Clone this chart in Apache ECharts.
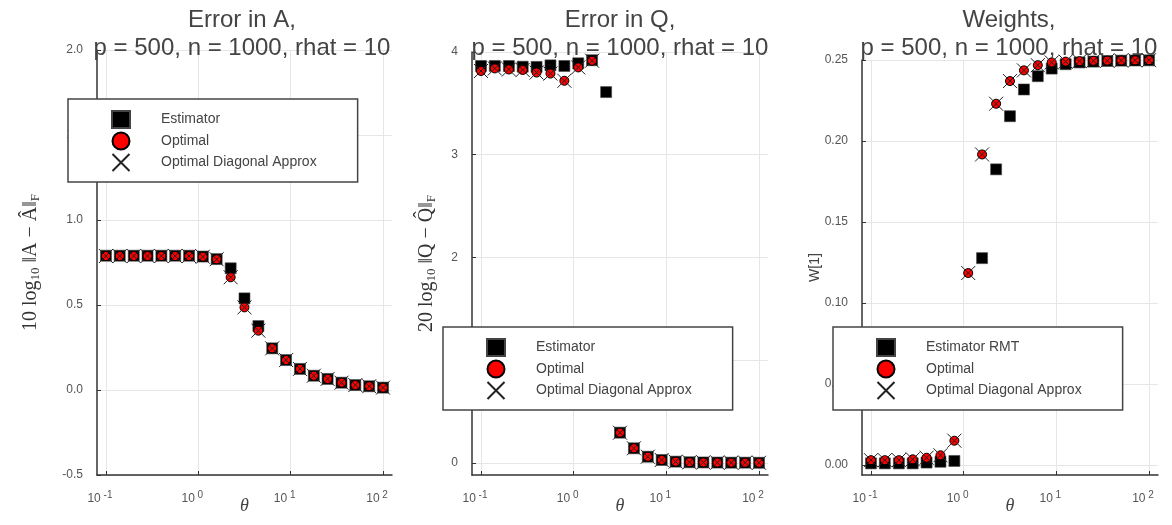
<!DOCTYPE html>
<html>
<head>
<meta charset="utf-8">
<script src="https://cdn.jsdelivr.net/npm/echarts@6/dist/echarts.min.js"></script>
<style>
  html, body { margin: 0; padding: 0; background: #fff; }
  #chart { width: 1172px; height: 525px; }
</style>
</head>
<body>
<div id="chart"></div>
<script>
// theta values (log spaced)
const theta = [0.1, 0.141, 0.2, 0.282, 0.398, 0.562, 0.794, 1.12, 1.58, 2.24, 3.16,
  4.47, 6.31, 8.91, 12.6, 17.8, 25.1, 35.5, 50.1, 70.8, 100];

// panel 1: error in A
const estA = [0.79, 0.79, 0.79, 0.79, 0.79, 0.79, 0.79, 0.785, 0.77, 0.716, 0.539,
  0.376, 0.245, 0.176, 0.124, 0.084, 0.065, 0.043, 0.029, 0.022, 0.014];
const optA = [0.788, 0.788, 0.788, 0.788, 0.788, 0.788, 0.788, 0.784, 0.769, 0.663, 0.486,
  0.349, 0.245, 0.176, 0.124, 0.084, 0.065, 0.043, 0.029, 0.022, 0.014];
const diagA = [0.788, 0.788, 0.788, 0.788, 0.788, 0.788, 0.788, 0.784, 0.769, 0.663, 0.486,
  0.349, 0.245, 0.176, 0.124, 0.084, 0.065, 0.043, 0.029, 0.022, 0.014];

// panel 2: error in Q
const estQ = [3.864, 3.864, 3.864, 3.857, 3.855, 3.87, 3.864, 3.89, 3.92, 3.61, 0.295,
  0.143, 0.061, 0.029, 0.013, 0.007, 0.005, 0.004, 0.003, 0.003, 0.002];
const optQ = [3.815, 3.84, 3.83, 3.825, 3.80, 3.79, 3.72, 3.85, 3.915, null, 0.295,
  0.143, 0.061, 0.029, 0.013, 0.007, 0.005, 0.004, 0.003, 0.003, 0.002];
const diagQ = [3.815, 3.84, 3.83, 3.825, 3.80, 3.79, 3.72, 3.85, 3.915, null, 0.295,
  0.143, 0.061, 0.029, 0.013, 0.007, 0.005, 0.004, 0.003, 0.003, 0.002];

// panel 3: weights
const estW = [0.001, 0.001, 0.001, 0.001, 0.0015, 0.002, 0.0025, null, 0.1277, 0.1825, 0.2153,
  0.2318, 0.240, 0.2447, 0.2474, 0.2485, 0.249, 0.2494, 0.2496, 0.2497, 0.2498];
const optW = [0.003, 0.003, 0.003, 0.0035, 0.0045, 0.006, 0.015, 0.1185, 0.1917, 0.223, 0.237,
  0.2436, 0.2468, 0.2485, 0.249, 0.2493, 0.2495, 0.2496, 0.2497, 0.2498, 0.2499];
const diagW = [0.003, 0.003, 0.003, 0.0035, 0.0045, 0.006, 0.015, 0.1185, 0.1917, 0.223, 0.237,
  0.2436, 0.2468, 0.2485, 0.249, 0.2493, 0.2495, 0.2496, 0.2497, 0.2498, 0.2499];

const xTicks = [0.1, 1, 10, 100];
const yTicksA = [-0.5, 0, 0.5, 1, 1.5, 2];
const yTicksQ = [0, 1, 2, 3, 4];
const yTicksW = [0, 0.05, 0.1, 0.15, 0.2, 0.25];

const titles = ['Error in A,', 'Error in Q,', 'Weights,'];
const subtitle = 'p = 500, n = 1000, rhat = 10';

const chart = echarts.init(document.getElementById('chart'));

const sans = 'Liberation Sans, Arial, sans-serif';
const serif = 'Liberation Serif, DejaVu Serif, serif';
const gridCol = '#e6e6e6';
const axisCol = '#333';

const pairs = (ys) => theta.map((t, i) => [t, ys[i]]).filter(d => d[1] != null);

const xPath = 'path://M0,0L20,20M20,0L0,20';

function makeX(gridIndex) {
  return {
    type: 'log', logBase: 10, gridIndex, min: 0.08, max: 125,
    name: 'θ', nameLocation: 'middle', nameGap: 22, nameMoveOverlap: false,
    nameTextStyle: { fontFamily: serif, fontStyle: 'italic', fontSize: 18, color: '#444' },
    axisLine: { show: true, onZero: false, lineStyle: { color: axisCol, width: 1.5 } },
    axisTick: { show: true, inside: true, length: 4, customValues: xTicks, lineStyle: { color: axisCol } },
    axisLabel: {
      customValues: xTicks, margin: 15, color: '#555', padding: [0, 12, 0, 0],
      formatter: (v) => '{b|10}{s| ' + Math.round(Math.log10(v)) + '}',
      rich: {
        b: { fontSize: 12, fontFamily: sans, color: '#555' },
        s: { fontSize: 10, fontFamily: sans, color: '#555', padding: [0, 0, 8, 0] }
      }
    },
    splitLine: { show: true, lineStyle: { color: gridCol, width: 1 } }
  };
}

function makeY(gridIndex, min, max, ticks, digits, name, nameGap, nameStyle) {
  return {
    type: 'value', gridIndex, min, max,
    name, nameLocation: 'middle', nameGap, nameMoveOverlap: false, nameTextStyle: nameStyle,
    axisLine: { show: true, onZero: false, lineStyle: { color: axisCol, width: 1.5 } },
    axisTick: { show: true, inside: true, length: 4, customValues: ticks, lineStyle: { color: axisCol } },
    axisLabel: {
      customValues: ticks, margin: 14, color: '#555', fontSize: 12, fontFamily: sans,
      formatter: (v) => v.toFixed(digits)
    },
    splitLine: { show: true, lineStyle: { color: gridCol, width: 1 } }
  };
}

const mathRich = {
  n: { fontSize: 20, fontFamily: serif, color: '#333' },
  s: { fontSize: 13, fontFamily: serif, color: '#333', padding: [9, 0, 0, 0] }
};

function scatterSet(idx, names, est, opt, diag) {
  return [
    {
      name: names[0], type: 'scatter', xAxisIndex: idx, yAxisIndex: idx,
      data: pairs(est), symbol: 'rect', symbolSize: 11,
      itemStyle: { color: '#000', borderColor: '#444', borderWidth: 0.6, opacity: 1 }
    },
    {
      name: names[1], type: 'scatter', xAxisIndex: idx, yAxisIndex: idx,
      data: pairs(opt), symbol: 'circle', symbolSize: 9,
      itemStyle: { color: '#ff0000', borderColor: '#000', borderWidth: 1, opacity: 1 }
    },
    {
      name: names[2], type: 'scatter', xAxisIndex: idx, yAxisIndex: idx,
      data: pairs(diag), symbol: xPath, symbolSize: 14,
      itemStyle: { color: 'transparent', borderColor: '#222', borderWidth: 1, opacity: 1 }
    }
  ];
}

function makeLegend(left, top, names) {
  return {
    left, top, orient: 'vertical', selectedMode: false,
    backgroundColor: '#fff', borderColor: '#444', borderWidth: 1.5, borderRadius: 0,
    padding: [11, 41, 10, 43],
    itemWidth: 18, itemHeight: 17, itemGap: 2.5,
    textStyle: { fontSize: 14, fontFamily: sans, color: '#444', padding: [0, 0, 0, 26] },
    data: [
      { name: names[0], icon: 'rect' },
      { name: names[1], icon: 'circle' },
      { name: names[2], icon: xPath }
    ]
  };
}

const namesA = ['Estimator', 'Optimal', 'Optimal Diagonal Approx'];
const namesW = ['Estimator RMT', 'Optimal', 'Optimal Diagonal Approx'];

const titleCenters = [242, 620, 1009];

chart.setOption({
  animation: false,
  backgroundColor: '#fff',
  title: titles.map((t, i) => ({
    text: t + '\n' + subtitle,
    left: titleCenters[i], top: 6, textAlign: 'center', padding: 0,
    textStyle: { fontSize: 24, lineHeight: 28, fontWeight: 'normal', color: '#444', fontFamily: sans }
  })),
  grid: [
    { left: 97, top: 50, width: 295, height: 425, outerBoundsMode: 'none' },
    { left: 472, top: 52, width: 296, height: 423, outerBoundsMode: 'none' },
    { left: 862, top: 60, width: 296, height: 415, outerBoundsMode: 'none' }
  ],
  xAxis: [makeX(0), makeX(1), makeX(2)],
  yAxis: [
    makeY(0, -0.5, 2, yTicksA, 1, '{n|10 log}{s|10}{n| ‖A − Â‖}{s|F}', 55,
      { rich: mathRich }),
    makeY(1, -0.117, 4, yTicksQ, 0, '{n|20 log}{s|10}{n| ‖Q − Q̂‖}{s|F}', 34,
      { rich: mathRich }),
    makeY(2, -0.00617, 0.25, yTicksW, 2, 'W[1]', 40,
      { fontSize: 14, fontFamily: sans, color: '#444' })
  ],
  legend: [
    makeLegend(68, 99, namesA),
    makeLegend(443, 327, namesA),
    makeLegend(833, 327, namesW)
  ],
  series: [
    ...scatterSet(0, namesA, estA, optA, diagA),
    ...scatterSet(1, namesA, estQ, optQ, diagQ),
    ...scatterSet(2, namesW, estW, optW, diagW)
  ]
});
</script>
</body>
</html>
